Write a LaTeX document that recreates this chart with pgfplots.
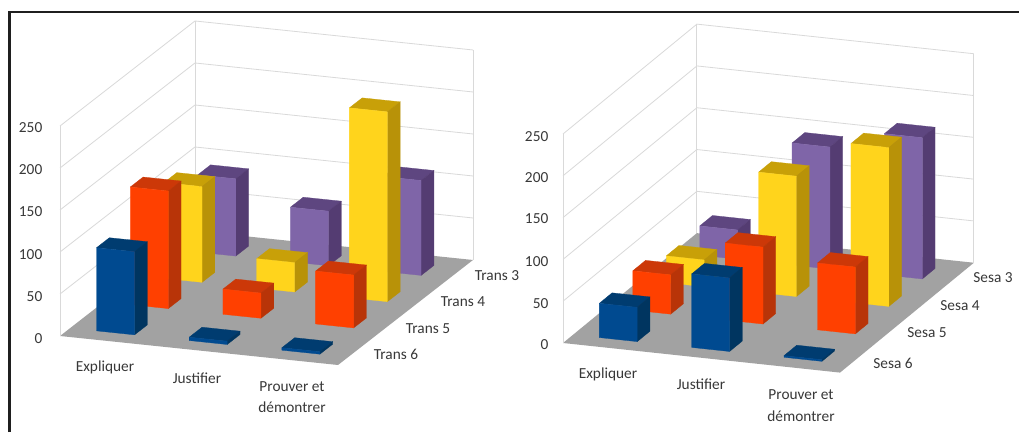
\documentclass[border=0pt]{standalone}
\usepackage{pgfplots}
\pgfplotsset{compat=1.18}
\usepackage{fontspec}
\setmainfont{Carlito}
\definecolor{txt}{HTML}{383838}
\definecolor{gridc}{HTML}{D9D9D9}
\definecolor{floorc}{HTML}{A2A2A2}
\definecolor{bluef}{HTML}{004A90}\definecolor{bluet}{HTML}{003C70}\definecolor{blues}{HTML}{003560}
\definecolor{redf}{HTML}{FF4000}\definecolor{redt}{HTML}{CC3808}\definecolor{reds}{HTML}{B83408}
\definecolor{yelf}{HTML}{FFD41C}\definecolor{yelt}{HTML}{C8A008}\definecolor{yels}{HTML}{B89208}
\definecolor{purf}{HTML}{7F65A8}\definecolor{purt}{HTML}{5E4680}\definecolor{purs}{HTML}{543C72}
% #1 category index, #2 row index (0 = front), #3 value, #4 colour prefix
\newcommand{\threedbar}[4]{%
  \pgfmathsetmacro\xa{#1+0.285}\pgfmathsetmacro\xb{#1+0.695}%
  \pgfmathsetmacro\ya{#2+0.30}\pgfmathsetmacro\yb{#2+0.68}%
  \edef\tmp{%
   \noexpand\addplot3[fill=#4t,draw=#4t,line width=.2pt] coordinates {(\xa,\ya,#3)(\xb,\ya,#3)(\xb,\yb,#3)(\xa,\yb,#3)(\xa,\ya,#3)};
   \noexpand\addplot3[fill=#4s,draw=#4s,line width=.2pt] coordinates {(\xb,\ya,0)(\xb,\yb,0)(\xb,\yb,#3)(\xb,\ya,#3)(\xb,\ya,0)};
   \noexpand\addplot3[fill=#4f,draw=#4f,line width=.2pt] coordinates {(\xa,\ya,0)(\xb,\ya,0)(\xb,\ya,#3)(\xa,\ya,#3)(\xa,\ya,0)};
  }\tmp}
\newcommand{\walls}{%
  \addplot3[fill=floorc,draw=none] coordinates {(0,0,0)(3,0,0)(3,4,0)(0,4,0)(0,0,0)};
  \addplot3[gridc,line width=.6pt] coordinates {(0,0,0)(0,0,250)};
  \addplot3[gridc,line width=.6pt] coordinates {(0,4,0)(0,4,250)};
  \addplot3[gridc,line width=.6pt] coordinates {(3,4,0)(3,4,250)};
  \addplot3[gridc,line width=.6pt] coordinates {(0,0,50)(0,4,50)(3,4,50)};
  \addplot3[gridc,line width=.6pt] coordinates {(0,0,100)(0,4,100)(3,4,100)};
  \addplot3[gridc,line width=.6pt] coordinates {(0,0,150)(0,4,150)(3,4,150)};
  \addplot3[gridc,line width=.6pt] coordinates {(0,0,200)(0,4,200)(3,4,200)};
  \addplot3[gridc,line width=.6pt] coordinates {(0,0,250)(0,4,250)(3,4,250)};
}
\pgfplotsset{bars3d/.style={hide axis,clip=false,anchor=origin,
  xmin=0,xmax=3,ymin=0,ymax=4,zmin=0,zmax=250}}
\newcommand{\lab}[3]{\node[txt,font=\fontsize{11.5}{13}\selectfont] at (#1,#2) {#3};}
\newcommand{\labr}[3]{\node[txt,anchor=east,font=\fontsize{11.5}{13}\selectfont] at (#1,#2) {#3};}
\begin{document}
\begin{tikzpicture}
\begin{scope}[x=.75pt,y=-.75pt,yshift=324pt]
  \path[use as bounding box] (0,0) rectangle (1019,432);
  \fill[white] (0,0) rectangle (1019,432);
  \draw[black!88,line width=2.1pt] (9.5,432) -- (9.5,12) -- (1019,12);
\end{scope}
\begin{axis}[bars3d,at={(45pt,72pt)},
  x={(69.5pt,-7.25pt)},y={(25.31pt,19.69pt)},z={(0pt,.63pt)}]
  \walls
  \threedbar{0}{3}{92}{pur}\threedbar{1}{3}{65}{pur}\threedbar{2}{3}{113}{pur}
  \threedbar{0}{2}{114}{yel}\threedbar{1}{2}{35}{yel}\threedbar{2}{2}{226}{yel}
  \threedbar{0}{1}{140}{red}\threedbar{1}{1}{30}{red}\threedbar{2}{1}{63}{red}
  \threedbar{0}{0}{99}{blue}\threedbar{1}{0}{4}{blue}\threedbar{2}{0}{3}{blue}
\end{axis}
\begin{axis}[bars3d,at={(422.25pt,66.75pt)},
  x={(69.25pt,-7.4pt)},y={(25.1pt,20.6pt)},z={(0pt,.627pt)}]
  \walls
  \threedbar{0}{3}{35}{pur}\threedbar{1}{3}{146}{pur}\threedbar{2}{3}{169}{pur}
  \threedbar{0}{2}{32}{yel}\threedbar{1}{2}{144}{yel}\threedbar{2}{2}{190}{yel}
  \threedbar{0}{1}{47}{red}\threedbar{1}{1}{92}{red}\threedbar{2}{1}{80}{red}
  \threedbar{0}{0}{41}{blue}\threedbar{1}{0}{88}{blue}\threedbar{2}{0}{2}{blue}
\end{axis}
\begin{scope}[x=.75pt,y=-.75pt,yshift=324pt]
  \labr{47}{128}{250}\labr{47}{170}{200}\labr{47}{212}{150}\labr{47}{255}{100}\labr{47}{297}{50}\labr{47}{339}{0}
  \lab{105}{367}{Expliquer}\lab{197}{378}{Justifier}\lab{292}{387}{Prouver et}\lab{292}{407}{démontrer}
  \lab{497}{276}{Trans 3}\lab{463}{302}{Trans 4}\lab{428}{329}{Trans 5}\lab{396}{354}{Trans 6}
  \labr{553}{137}{250}\labr{553}{178}{200}\labr{553}{219}{150}\labr{553}{262}{100}\labr{553}{304}{50}\labr{553}{345}{0}
  \lab{608}{374}{Expliquer}\lab{701}{384}{Justifier}\lab{801}{395}{Prouver et}\lab{801}{416}{démontrer}
  \lab{993}{278}{Sesa 3}\lab{960}{306}{Sesa 4}\lab{927}{333}{Sesa 5}\lab{893}{363}{Sesa 6}
\end{scope}
\end{tikzpicture}
\end{document}
